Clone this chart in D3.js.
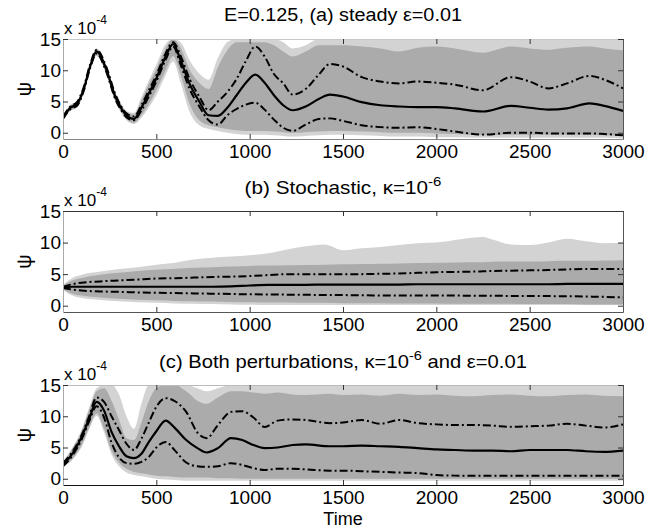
<!DOCTYPE html>
<html><head><meta charset="utf-8">
<script src="https://cdn.jsdelivr.net/npm/d3@7"></script>
<style>
body{margin:0;background:#fff;}
text{font-family:"Liberation Sans",Arial,Helvetica,sans-serif;fill:#000;}
</style>
</head><body>
<svg id="chart" width="659" height="529"></svg>
<script>
// ---------- data (values in units of 1e-4) ----------
const xTicks = [0, 500, 1000, 1500, 2000, 2500, 3000];
const yTicks = [0, 5, 10, 15];

// (a) steady
const aTime  = [0,40,75,110,145,180,230,280,310,340,380,420,460,500,550,590,630,680,730,780,830,880,930,980,1030,1080,1130,1180,1230,1300,1370,1430,1500,1600,1700,1800,1900,2000,2100,2250,2400,2500,2600,2700,2820,2900,3000];
const aMean  = [2.4,4.0,4.6,6.9,10.6,13.0,10.3,5.8,4.0,2.8,2.2,4.0,6.3,8.7,12.2,14.2,11.6,7.7,5.0,2.8,2.7,4.0,6.0,8.0,9.3,8.0,6.0,4.4,3.6,4.2,5.4,6.1,5.8,4.9,4.4,4.2,4.1,4.1,3.9,3.4,4.3,4.0,3.7,3.9,4.7,4.3,3.5];
const aUpper = [2.6,4.2,4.9,7.2,10.9,13.3,10.7,6.2,4.3,3.1,2.6,4.4,6.8,9.2,12.7,14.5,12.3,8.5,5.8,3.6,5.0,6.5,8.6,11.5,13.8,12.2,9.4,7.9,6.1,7.0,9.3,11.0,10.6,8.9,8.2,7.9,8.2,8.0,7.7,6.8,8.9,8.2,7.1,7.9,9.1,8.5,7.1];
const aLower = [2.2,3.8,4.3,6.6,10.3,12.7,9.9,5.4,3.7,2.5,2.0,3.6,5.8,8.2,11.7,13.8,10.9,6.9,4.2,2.0,1.3,2.8,3.8,4.5,4.8,3.7,2.1,0.8,0.3,1.3,2.2,2.3,1.9,1.2,0.9,0.8,0.9,0.6,0.2,-0.3,0.0,0.0,-0.1,-0.1,-0.1,-0.2,-0.4];
const aDenseHi  = [2.7,4.4,4.9,7.3,11.0,13.4,10.8,6.4,4.6,3.3,2.9,5.2,7.8,10.2,13.5,15,13.6,10.0,8.0,7.0,10.5,13.2,14.5,14.5,14.5,14.5,14.0,13.0,12.2,13.0,14.0,14.0,14.0,13.8,13.5,13.0,13.6,13.8,13.5,12.8,13.8,13.5,13.3,13.6,13.8,13.5,13.2];
const aDenseLo  = [2.1,3.6,4.1,6.4,10.1,12.4,9.6,5.1,3.4,2.2,1.6,2.8,4.6,6.8,10.0,12.3,9.3,4.5,2.0,1.2,0.9,0.6,0.4,0.3,0.3,0.3,0.2,0.1,0.0,0.1,0.2,0.3,0.3,0.2,0.1,0.0,0.0,-0.1,-0.2,-0.4,-0.3,-0.3,-0.3,-0.3,-0.3,-0.4,-0.5];
const aSparseHi = [2.8,4.5,5.0,7.4,11.1,13.5,10.9,6.5,4.7,3.5,3.2,5.7,8.4,10.9,14.2,15,14.5,11.5,9.5,8.5,12.0,14.5,15,15,15,15,15,14.5,13.5,14.0,15,15,15,15,15,15,15,15,15,15,15,15,15,15,15,15,15];
const aSparseLo = [2.0,3.5,4.0,6.3,10.0,12.3,9.5,5.0,3.3,2.0,1.4,2.4,4.0,6.0,9.2,11.4,8.0,3.2,1.2,0.6,0.3,0.0,-0.2,-0.3,-0.3,-0.3,-0.4,-0.5,-0.6,-0.5,-0.4,-0.3,-0.3,-0.4,-0.5,-0.6,-0.6,-0.7,-0.7,-0.8,-0.8,-0.8,-0.8,-0.8,-0.8,-0.8,-0.9];

// (b) stochastic
const bTime  = [0,50,100,200,300,400,500,600,700,800,900,1000,1100,1200,1300,1400,1500,1600,1700,1800,1900,2000,2100,2200,2250,2300,2400,2500,2600,2700,2800,2900,3000];
const bMean  = [2.9,3.0,3.0,3.0,3.0,3.0,3.0,3.0,3.0,3.0,3.05,3.2,3.3,3.3,3.3,3.35,3.35,3.35,3.35,3.35,3.4,3.4,3.4,3.4,3.4,3.4,3.4,3.4,3.4,3.45,3.45,3.45,3.45];
const bUpper = [3.0,3.4,3.65,3.85,4.0,4.15,4.3,4.35,4.45,4.55,4.6,4.7,4.85,5.0,5.0,5.0,5.0,5.0,5.05,5.1,5.2,5.3,5.35,5.4,5.45,5.5,5.55,5.6,5.65,5.75,5.8,5.8,5.8];
const bLower = [2.8,2.55,2.4,2.25,2.2,2.1,2.05,2.0,1.95,1.9,1.85,1.8,1.78,1.75,1.72,1.7,1.68,1.65,1.62,1.6,1.6,1.6,1.6,1.58,1.58,1.57,1.55,1.55,1.52,1.5,1.45,1.4,1.3];
const bDenseHi  = [3.2,4.0,4.4,4.9,5.2,5.5,5.7,5.85,6.0,6.1,6.2,6.3,6.35,6.4,6.45,6.5,6.55,6.6,6.65,6.7,6.75,6.8,6.85,6.9,6.9,6.95,7.0,7.0,7.05,7.1,7.1,7.15,7.2];
const bDenseLo  = [2.6,1.9,1.6,1.3,1.1,0.95,0.85,0.75,0.7,0.65,0.6,0.55,0.5,0.5,0.45,0.45,0.4,0.4,0.4,0.35,0.35,0.35,0.3,0.3,0.3,0.3,0.3,0.25,0.25,0.25,0.2,0.2,0.2];
const bSparseHi = [3.3,4.4,4.9,5.4,5.8,6.1,6.5,6.8,7.3,7.6,7.8,8.0,8.3,8.9,9.4,9.7,8.8,9.1,9.3,9.6,9.9,10.0,10.4,10.8,10.9,10.5,9.7,9.6,10.0,10.6,10.2,9.9,10.0];
const bSparseLo = [2.5,1.6,1.2,0.9,0.7,0.55,0.45,0.35,0.3,0.25,0.2,0.15,0.1,0.1,0.1,0.1,0.1,0.1,0.1,0.1,0.1,0.1,0.1,0.1,0.1,0.1,0.1,0.1,0.1,0.1,0.1,0.1,0.1];

// (c) both perturbations
const cTime  = [0,50,100,140,180,220,260,300,340,380,420,460,500,550,600,660,720,770,830,900,960,1020,1080,1150,1230,1300,1430,1500,1600,1700,1800,1900,2000,2100,2200,2300,2400,2500,2600,2700,2800,2900,3000];
const cMean  = [2.2,4.0,6.7,9.6,12.3,10.9,7.5,5.2,3.6,3.3,4.0,5.9,7.6,9.3,8.1,6.2,4.9,4.2,4.9,6.5,6.2,5.4,4.9,5.0,5.4,5.5,5.2,5.2,5.3,5.2,5.1,4.9,4.7,4.6,4.5,4.5,4.4,4.6,4.6,4.6,4.4,4.3,4.5];
const cUpper = [2.5,4.3,7.0,10.0,13.0,12.3,10.0,7.8,5.6,4.6,6.4,9.0,11.5,12.9,12.4,10.7,7.4,6.5,8.6,10.7,10.8,9.8,8.3,9.3,9.5,9.4,8.9,9.0,9.4,8.8,9.4,8.9,8.7,8.6,8.6,8.5,8.3,8.4,8.5,8.8,8.5,8.2,8.7];
const cLower = [2.0,3.7,6.3,9.2,11.6,9.8,5.8,3.4,2.5,2.4,2.7,3.5,5.0,5.9,4.5,2.6,2.0,1.9,2.0,2.5,2.2,1.7,1.4,1.6,1.6,1.5,1.3,1.3,1.2,1.1,1.0,0.9,0.6,0.5,0.5,0.5,0.5,0.5,0.5,0.5,0.5,0.5,0.5];
const cDenseHi  = [2.6,4.8,7.6,11.0,14.0,14.5,12.5,9.5,6.5,6.2,9.0,12.5,14.5,15,15,14.0,12.5,12.0,13.0,14.0,14.0,13.8,13.6,13.8,13.5,13.4,13.6,13.4,13.5,13.3,13.6,13.4,13.5,13.3,13.2,13.4,13.5,13.3,13.2,13.4,13.5,13.3,13.2];
const cDenseLo  = [2.0,3.2,5.4,8.2,10.5,8.0,4.5,2.6,1.6,1.1,0.9,0.7,0.5,0.4,0.3,0.2,0.2,0.2,0.1,0.1,0.0,0.0,0.0,0.0,0.0,0.0,0.0,0.0,0.0,0.0,0.0,0.0,0.0,0.0,0.0,0.0,0.0,0.0,0.0,0.0,0.0,0.0,0.0];
const cSparseHi = [2.7,5.0,7.9,11.4,14.5,15,15,13.5,10.0,8.0,12.0,15,15,15,15,15,14.5,14.0,14.5,15,15,15,15,15,15,15,15,15,15,15,15,15,15,15,15,15,15,15,15,15,15,15,15];
const cSparseLo = [1.9,3.0,5.1,7.9,10.1,7.4,3.9,2.0,1.0,0.6,0.4,0.2,0.0,-0.1,-0.2,-0.3,-0.3,-0.3,-0.3,-0.3,-0.3,-0.3,-0.3,-0.3,-0.3,-0.3,-0.3,-0.3,-0.3,-0.3,-0.3,-0.3,-0.3,-0.3,-0.3,-0.3,-0.3,-0.3,-0.3,-0.3,-0.3,-0.3,-0.3];

const titles = [
  [{t:"E=0.125, (a) steady \u03B5=0.01"}],
  [{t:"(b) Stochastic, \u03BA=10"},{t:"-6",sup:true}],
  [{t:"(c) Both perturbations, \u03BA=10"},{t:"-6",sup:true},{t:" and \u03B5=0.01"}]
];
const xLabel = "Time";
const yLabel = "\u03C8";

// ---------- layout ----------
const L = 63, R = 623;
const FONT = '"Liberation Sans",Arial,Helvetica,sans-serif';
const panels = [
  {top:39,  bot:139, time:aTime, mean:aMean, up:aUpper, lo:aLower, dHi:aDenseHi, dLo:aDenseLo, sHi:aSparseHi, sLo:aSparseLo, titleY:21, titleW:238, topCol:"#c8c8c8", botCol:"#888"},
  {top:211, bot:312, time:bTime, mean:bMean, up:bUpper, lo:bLower, dHi:bDenseHi, dLo:bDenseLo, sHi:bSparseHi, sLo:bSparseLo, titleY:194, titleW:197, topCol:"#333", botCol:"#555"},
  {top:385, bot:485, time:cTime, mean:cMean, up:cUpper, lo:cLower, dHi:cDenseHi, dLo:cDenseLo, sHi:cSparseHi, sLo:cSparseLo, titleY:368, titleW:368, topCol:"#bbb", botCol:"#111"}
];

const svg = d3.select("#chart");
const x = d3.scaleLinear().domain([0, 3000]).range([L, R]);
const cx = (L + R) / 2;
const fmt = d3.format("d");

panels.forEach((p, k) => {
  const y = d3.scaleLinear().domain([-1, 15]).range([p.bot, p.top]);
  const idx = d3.range(p.time.length);
  const clipId = "clip" + k;
  svg.append("clipPath").attr("id", clipId).append("rect")
    .attr("x", L).attr("y", p.top).attr("width", R - L).attr("height", p.bot - p.top);
  const plot = svg.append("g").attr("clip-path", `url(#${clipId})`);

  const area = (hi, lo) => d3.area().x(i => x(p.time[i])).y0(i => y(lo[i])).y1(i => y(hi[i])).curve(d3.curveMonotoneX)(idx);
  const line = arr => d3.line().x(i => x(p.time[i])).y(i => y(arr[i])).curve(d3.curveMonotoneX)(idx);

  plot.append("path").attr("d", area(p.sHi, p.sLo)).attr("fill", "#d3d3d3");
  plot.append("path").attr("d", area(p.dHi, p.dLo)).attr("fill", "#ababab");

  [p.up, p.lo].forEach(arr => {
    plot.append("path").attr("d", line(arr)).attr("fill", "none")
      .attr("stroke", "#000").attr("stroke-width", 2).attr("stroke-dasharray", "8,3,2,3");
  });
  plot.append("path").attr("d", line(p.mean)).attr("fill", "none")
    .attr("stroke", "#000").attr("stroke-width", 2.2);

  // axes
  const gB = svg.append("g").attr("transform", `translate(0,${p.bot})`)
    .call(d3.axisBottom(x).tickValues(xTicks).tickFormat(fmt).tickSizeInner(-5).tickSizeOuter(0).tickPadding(6));
  const gT = svg.append("g").attr("transform", `translate(0,${p.top})`)
    .call(d3.axisTop(x).tickValues(xTicks).tickSizeInner(-5).tickSizeOuter(0).tickFormat(""));
  const gL = svg.append("g").attr("transform", `translate(${L},0)`)
    .call(d3.axisLeft(y).tickValues(yTicks).tickFormat(fmt).tickSizeInner(-5).tickSizeOuter(0).tickPadding(3));
  const gR = svg.append("g").attr("transform", `translate(${R},0)`)
    .call(d3.axisRight(y).tickValues(yTicks).tickSizeInner(-5).tickSizeOuter(0).tickFormat(""));
  [gB, gT, gL, gR].forEach(g => g.attr("font-family", FONT).attr("font-size", 19));
  [gB, gT, gL, gR].forEach(g => g.selectAll("text").attr("fill", "#000"));
  gB.select(".domain").attr("stroke", p.botCol);
  gT.select(".domain").attr("stroke", p.topCol);
  gL.select(".domain").attr("stroke", "#aaa");
  gR.select(".domain").attr("stroke", "#555");
  [gB, gT, gL, gR].forEach(g => g.selectAll(".tick line").attr("stroke", "#333"));
  gL.selectAll(".tick text").attr("x", -2);

  // multiplier label
  const m = svg.append("text").attr("x", L + 1).attr("y", p.top - 5).attr("font-size", 17);
  m.append("tspan").text("x 10");
  m.append("tspan").attr("dy", -10).attr("font-size", 12).text("-4");

  // y label
  svg.append("text").attr("transform", `translate(31,${(p.top + p.bot) / 2}) rotate(-90)`)
    .attr("text-anchor", "middle").attr("font-size", 20).text(yLabel);

  // title
  const t = svg.append("text").attr("x", cx).attr("y", p.titleY).attr("text-anchor", "middle").attr("font-size", 18);
  let raised = false;
  titles[k].forEach(part => {
    const ts = t.append("tspan").text(part.t);
    if (part.sup) { ts.attr("dy", -8).attr("font-size", 13); raised = true; }
    else if (raised) { ts.attr("dy", 8); raised = false; }
  });
  const w = t.node().getBBox().width;
  const s = p.titleW / w;
  t.attr("transform", `translate(${cx},0) scale(${s},1) translate(${-cx},0)`);
});

svg.append("text").attr("x", cx).attr("y", 525).attr("text-anchor", "middle").attr("font-size", 18).text(xLabel);
</script>
</body></html>
